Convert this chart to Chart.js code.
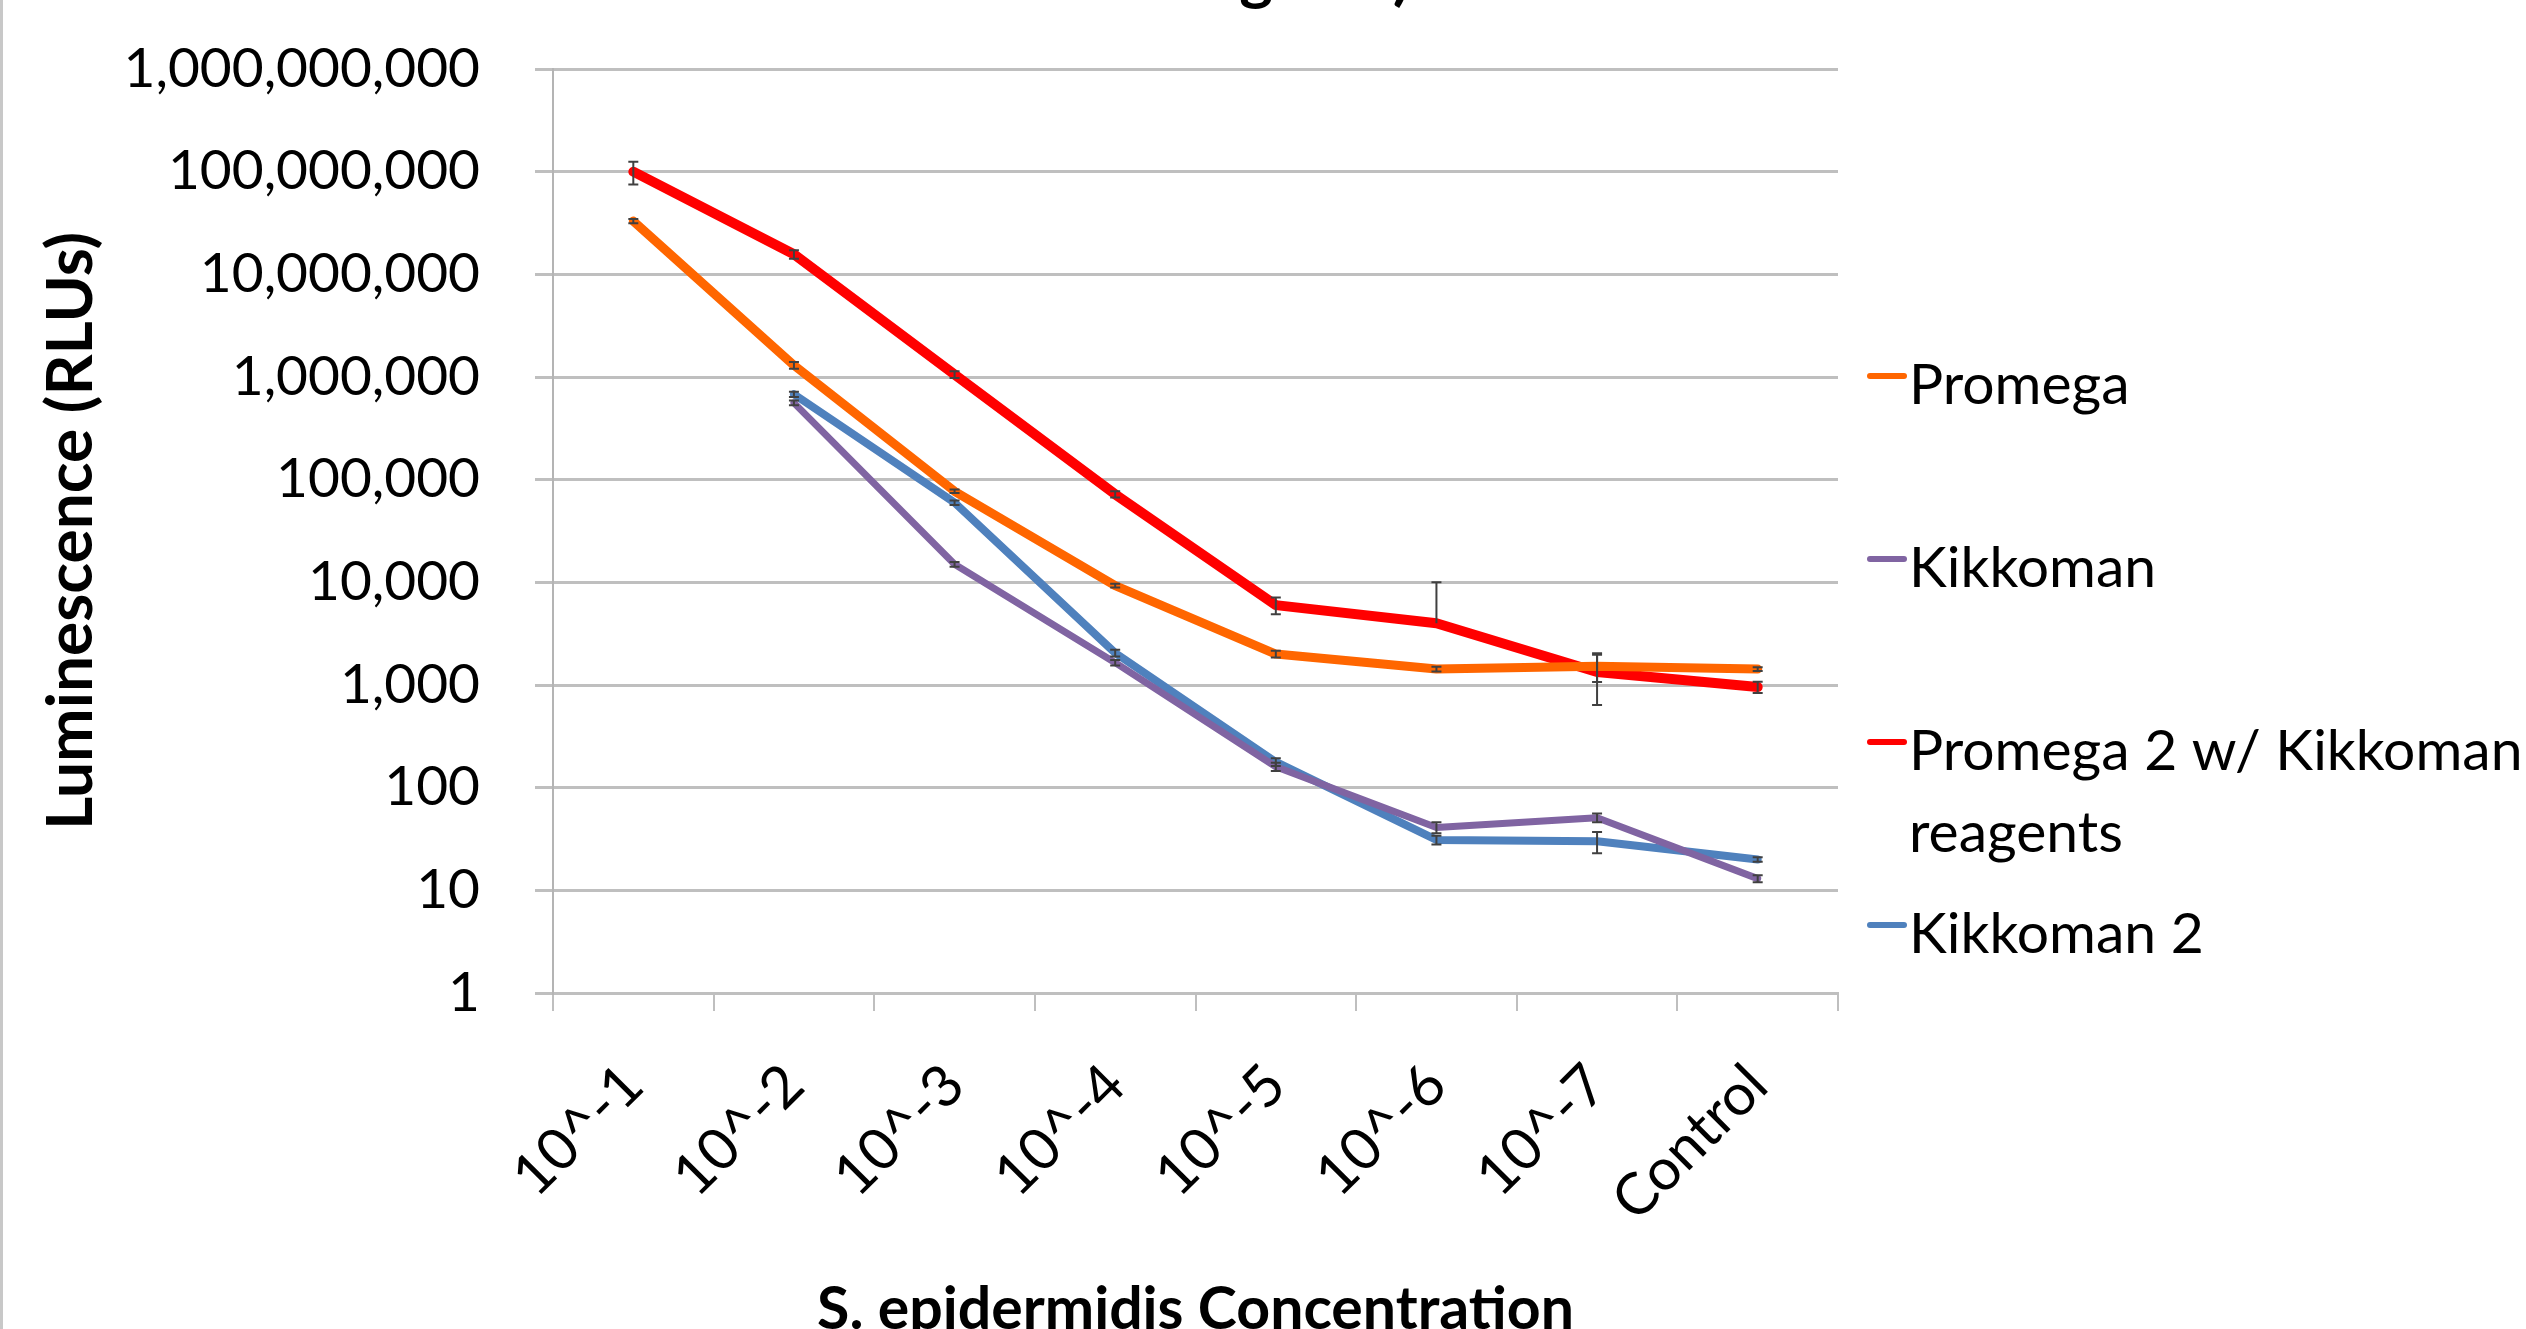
<!DOCTYPE html>
<html>
<head>
<meta charset="utf-8">
<script src="https://cdn.jsdelivr.net/npm/chart.js@4.4.1/dist/chart.umd.min.js"></script>
<style>
  html, body { margin: 0; padding: 0; background: #fff; }
  #wrap { position: absolute; left: 0; top: 0; width: 2526px; height: 1329px; }
</style>
</head>
<body>
<div id="wrap"><canvas id="lumChart" width="2526" height="1329"></canvas></div>
<script>
// categories on the x axis
var categories = ['10^-1', '10^-2', '10^-3', '10^-4', '10^-5', '10^-6', '10^-7', 'Control'];

// series values (RLUs)
var promega    = [33000000, 1300000, 77000, 9300, 2000, 1430, 1520, 1430];
var kikkoman   = [null, 560000, 15000, 1650, 160, 41, 51, 13];
var promega2   = [100000000, 15700000, 1060000, 72000, 6000, 4000, 1340, 955];
var kikkoman2  = [null, 680000, 59700, 2050, 178, 31, 30, 20];

// error bar half-widths (+/-)
var promegaErr   = [1500000, 100000, 3000, 400, 150, 80, 450, 60];
var kikkomanErr  = [null, 30000, 800, 100, 15, 5, 5, 1];
var promega2Err  = [25000000, 1500000, 80000, 5000, 1100, 6000, 700, 120];
var kikkoman2Err = [null, 40000, 3000, 150, 15, 3, 7, 1];

// y tick labels (powers of ten)
var yTicks = [1, 10, 100, 1000, 10000, 100000, 1000000, 10000000, 100000000, 1000000000];

var seriesNames = ['Promega', 'Kikkoman', 'Promega 2 w/ Kikkoman reagents', 'Kikkoman 2'];

var FONT = 'Lato, "Open Sans", sans-serif';

/* ---- error bars drawn from the dataset values ---- */
var errorBarPlugin = {
  id: 'errorBars',
  afterDatasetsDraw: function (chart) {
    var ctx = chart.ctx, x = chart.scales.x, y = chart.scales.y;
    ctx.save();
    ctx.strokeStyle = '#404040';
    ctx.lineWidth = 2;
    chart.data.datasets.forEach(function (ds) {
      ds.errorBars.forEach(function (e, j) {
        var v = ds.data[j];
        if (v == null || e == null) return;
        var px = x.getPixelForValue(j);
        var pMid = y.getPixelForValue(v);
        var pTop = y.getPixelForValue(v + e);
        var pBot = v - e > 0 ? y.getPixelForValue(v - e) : pMid;
        ctx.beginPath();
        ctx.moveTo(px, pTop); ctx.lineTo(px, pBot);
        ctx.moveTo(px - 5, pTop); ctx.lineTo(px + 5, pTop);
        if (v - e > 0) { ctx.moveTo(px - 5, pBot); ctx.lineTo(px + 5, pBot); }
        ctx.stroke();
      });
    });
    ctx.restore();
  }
};

/* ---- right side legend, title remnant and frame ---- */
var sideLegendPlugin = {
  id: 'sideLegend',
  afterDraw: function (chart) {
    var ctx = chart.ctx;
    ctx.save();
    // left frame edge
    ctx.fillStyle = '#C8C8C8';
    ctx.fillRect(0, 0, 3, chart.height);

    // bottom of the (cut off) chart title
    ctx.fillStyle = '#000';
    ctx.font = 'bold 64px ' + FONT;
    ctx.textAlign = 'center';
    ctx.textBaseline = 'alphabetic';
    ctx.fillText('Reagents)', 1272, -2);

    // legend
    ctx.font = '57px ' + FONT;
    ctx.textAlign = 'left';
    var textX = 1909, maxW = 640;
    chart.data.datasets.forEach(function (ds, i) {
      var base = 404 + 183 * i;
      ctx.strokeStyle = ds.borderColor;
      ctx.lineWidth = 6;
      ctx.lineCap = 'round';
      ctx.beginPath();
      ctx.moveTo(1870, base - 28);
      ctx.lineTo(1904, base - 28);
      ctx.stroke();
      // wrap label
      var words = ds.label.split(' '), line = '', lines = [];
      words.forEach(function (w) {
        var test = line ? line + ' ' + w : w;
        if (ctx.measureText(test).width > maxW && line) { lines.push(line); line = w; }
        else line = test;
      });
      lines.push(line);
      ctx.fillStyle = '#000';
      lines.forEach(function (l, k) { ctx.fillText(l, textX, base + k * 82); });
    });
    ctx.restore();
  }
};

var ctx = document.getElementById('lumChart').getContext('2d');

var config = {
  type: 'line',
  data: {
    labels: categories,
    datasets: [
      { label: seriesNames[0], data: promega, errorBars: promegaErr, borderColor: '#FF6600', borderWidth: 9 },
      { label: seriesNames[1], data: kikkoman, errorBars: kikkomanErr, borderColor: '#8064A2', borderWidth: 7 },
      { label: seriesNames[2], data: promega2, errorBars: promega2Err, borderColor: '#FF0000', borderWidth: 10 },
      { label: seriesNames[3], data: kikkoman2, errorBars: kikkoman2Err, borderColor: '#4F81BD', borderWidth: 8 }
    ]
  },
  options: {
    responsive: false,
    animation: false,
    layout: { padding: { left: 0, right: 2526 - 1838, top: 69, bottom: 0 } },
    elements: {
      point: { radius: 0, hoverRadius: 0 },
      line: { tension: 0, borderCapStyle: 'round', borderJoinStyle: 'round', fill: false }
    },
    plugins: {
      legend: { display: false },
      tooltip: { enabled: false }
    },
    scales: {
      x: {
        offset: true,
        grid: { offset: true, drawOnChartArea: false, drawTicks: true, tickLength: 18, color: '#BFBFBF', lineWidth: 2 },
        border: { color: '#BFBFBF', width: 3 },
        ticks: { minRotation: 45, maxRotation: 45, color: '#000', font: { family: FONT, size: 58 }, padding: 40 },
        title: { display: true, text: 'S. epidermidis Concentration', color: '#000',
                 font: { family: FONT, size: 59, weight: 'bold' }, padding: { top: 0, bottom: -16 } },
        afterFit: function (s) { s.height = 1329 - 993; }
      },
      y: {
        type: 'logarithmic',
        min: 1,
        max: 1000000000,
        afterBuildTicks: function (s) { s.ticks = yTicks.map(function (v) { return { value: v }; }); },
        grid: { color: '#BFBFBF', lineWidth: 3, tickLength: 18 },
        border: { color: '#B4B4B4', width: 2 },
        ticks: {
          padding: 55,
          color: '#000',
          font: { family: FONT, size: 55 },
          callback: function (v) { return Number(v).toLocaleString('en-US'); }
        },
        title: { display: true, text: 'Luminescence (RLUs)', color: '#000',
                 font: { family: FONT, size: 64, weight: 'bold' }, padding: { top: 33, bottom: 0 } },
        afterFit: function (s) { s.width = 553; s.paddingTop = 0; s.paddingBottom = 0; }
      }
    }
  },
  plugins: [errorBarPlugin, sideLegendPlugin]
};

var lumChart = new Chart(ctx, config);
</script>
</body>
</html>
